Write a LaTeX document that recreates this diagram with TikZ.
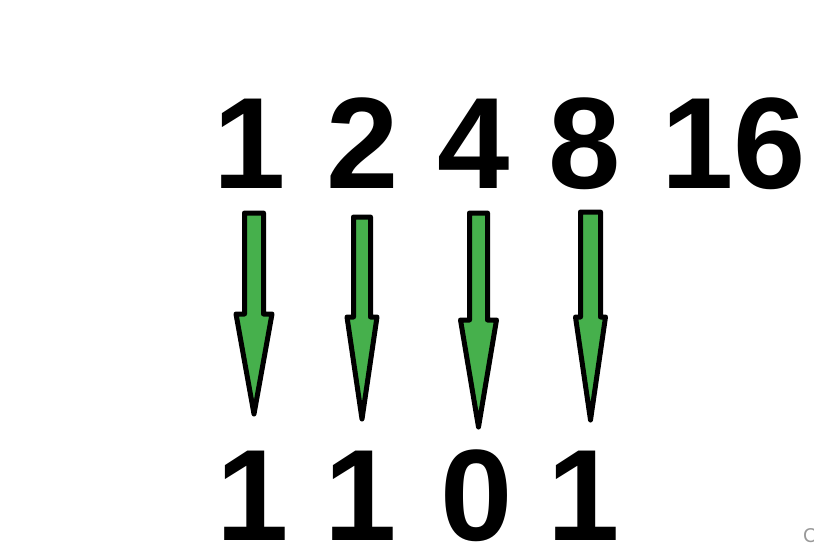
\documentclass[tikz,border=0pt]{standalone}
\usepackage{fontspec}
\setmainfont{Liberation Sans}
\begin{document}
\begin{tikzpicture}[x=1pt,y=-1pt,
  digit/.style={font=\fontsize{130}{130}\bfseries\selectfont, inner sep=0pt, anchor=base},
  fatarrow/.style={draw=black, fill=arrowgreen, line width=5pt, line join=round},
  wmark/.style={font=\fontsize{20}{20}\selectfont, text=gray!80, inner sep=0pt, anchor=base west}]
\definecolor{arrowgreen}{RGB}{70,176,76}
\useasboundingbox[fill=white] (0,0) rectangle (814,551);
% top row
\node[digit] (t1) at (250,188) {1};
\node[digit] (t2) at (363,188) {2};
\node[digit] (t4) at (474,188) {4};
\node[digit] (t8) at (585,188) {8};
\node[digit] (t16) at (734,188) {16};
% bottom row
\node[digit] (b1) at (253,540) {1};
\node[digit] (b2) at (361,540) {1};
\node[digit] (b3) at (477,540) {0};
\node[digit] (b4) at (584,540) {1};
% arrows
\newcommand{\fatarr}[6]{%
  \draw[fatarrow] (#1-#3,#2) -- (#1+#3,#2) -- (#1+#3,#4) -- (#1+#5,#4) -- (#1,#6) -- (#1-#5,#4) -- (#1-#3,#4) -- cycle;}
\fatarr{254}{213}{9.5}{314}{18}{414}
\fatarr{362}{217}{8.5}{317}{15}{419}
\fatarr{478.5}{213}{9}{320}{18}{427}
\fatarr{590.5}{212}{10}{317}{15}{420}
\node[wmark] (c) at (803,542) {C};
\end{tikzpicture}
\end{document}
